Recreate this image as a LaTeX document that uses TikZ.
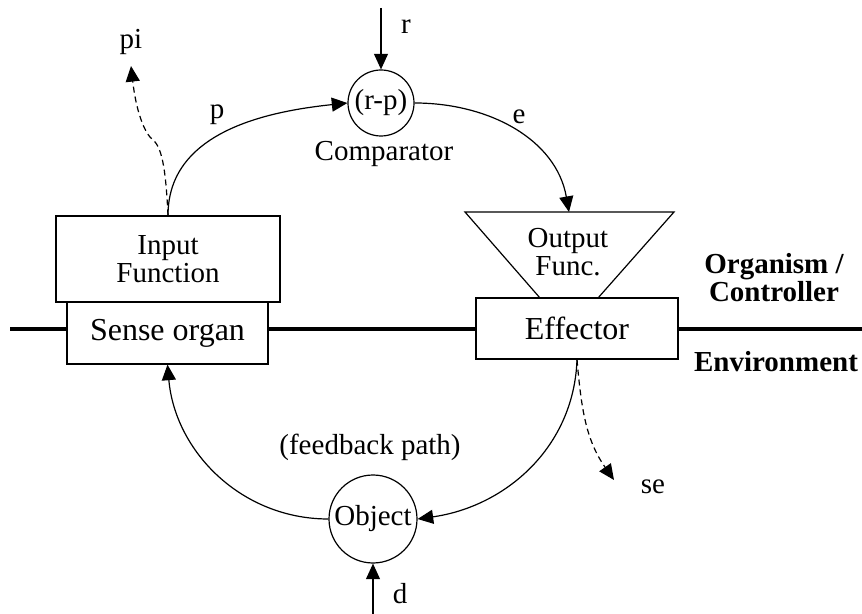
\documentclass[tikz,border=0pt]{standalone}
\usepackage{fontspec}
\setmainfont{Liberation Serif}
\usetikzlibrary{arrows.meta}
\begin{document}
\begin{tikzpicture}[x=0.5pt,y=-0.5pt,
  every node/.style={font=\fontsize{14.5}{14}\selectfont, inner sep=0pt},
  box/.style={draw, line width=0.6pt, fill=white},
  bigtext/.style={font=\fontsize{16}{16}\selectfont},
  boldlabel/.style={font=\fontsize{14.5}{14}\selectfont\bfseries, align=center},
  ring/.style={draw, circle, line width=0.6pt, fill=white},
  conn/.style={line width=0.6pt, -{Triangle[length=7.8pt,width=7pt]}},
  dconn/.style={conn, dash pattern=on 3pt off 2pt},
  border/.style={line width=2pt}
]
\useasboundingbox (0,0) rectangle (862,614);

% organism / environment border
\coordinate (bl) at (10,329);
\coordinate (br) at (862,329);
\draw[border] (bl) -- (br);

% boxes
\node[box, minimum width=112pt, minimum height=43pt, align=center] (inp) at (168,259) {Input\\Function};
\node[box, bigtext, minimum width=100.5pt, minimum height=31pt] (sense) at (167.5,333) {Sense organ};

\draw[line width=0.6pt, fill=white] (465,212) -- (674,212) -- (598,298) -- (540,298) -- cycle;
\coordinate (outtop) at (569,212);
\node[align=center] (outf) at (568,252) {Output\\Func.};

\node[box, bigtext, minimum width=101pt, minimum height=30.5pt] (eff) at (577,328.5) {Effector};

\node[ring, minimum size=33pt] (cmp) at (381,103) {(r-p)};
\node[ring, minimum size=44pt] (obj) at (373,519) {Object};

% coordinates for free ends
\coordinate (rstart) at (381,8);
\coordinate (dstart) at (373,614);
\coordinate (pitip) at (131,66);
\coordinate (setip) at (614,480);

% connectors
\draw[conn] (rstart) -- (cmp.north);
\draw[conn] (dstart) -- (obj.south);
\draw[conn] (inp.north) to[out=90,in=186] (cmp.west);
\draw[conn] (cmp.east) to[out=0,in=100] (outtop);
\draw[conn] (eff.south) to[out=-92,in=8] (obj.east);
\draw[conn] (obj.west) to[out=180,in=-85] (sense.south);
\draw[dconn] (inp.north) .. controls (166,175) and (163,148) .. (153,140)
  .. controls (144,133) and (136,110) .. (pitip);
\draw[dconn] (eff.south) to[out=-85,in=125] (setip);

% labels
\node (lr) at (406,27) {r};
\node (lpi) at (131,42) {pi};
\node (lp) at (217,115) {p};
\node (le) at (519,117) {e};
\node (lcmp) at (384,154) {Comparator};
\node (lfb) at (370,447) {(feedback path)};
\node (lse) at (653,487) {se};
\node (ld) at (400,594) {d};
\node[boldlabel] (org) at (774,278) {Organism /\\Controller};
\node[boldlabel] (env) at (776,362) {Environment};
\end{tikzpicture}
\end{document}
